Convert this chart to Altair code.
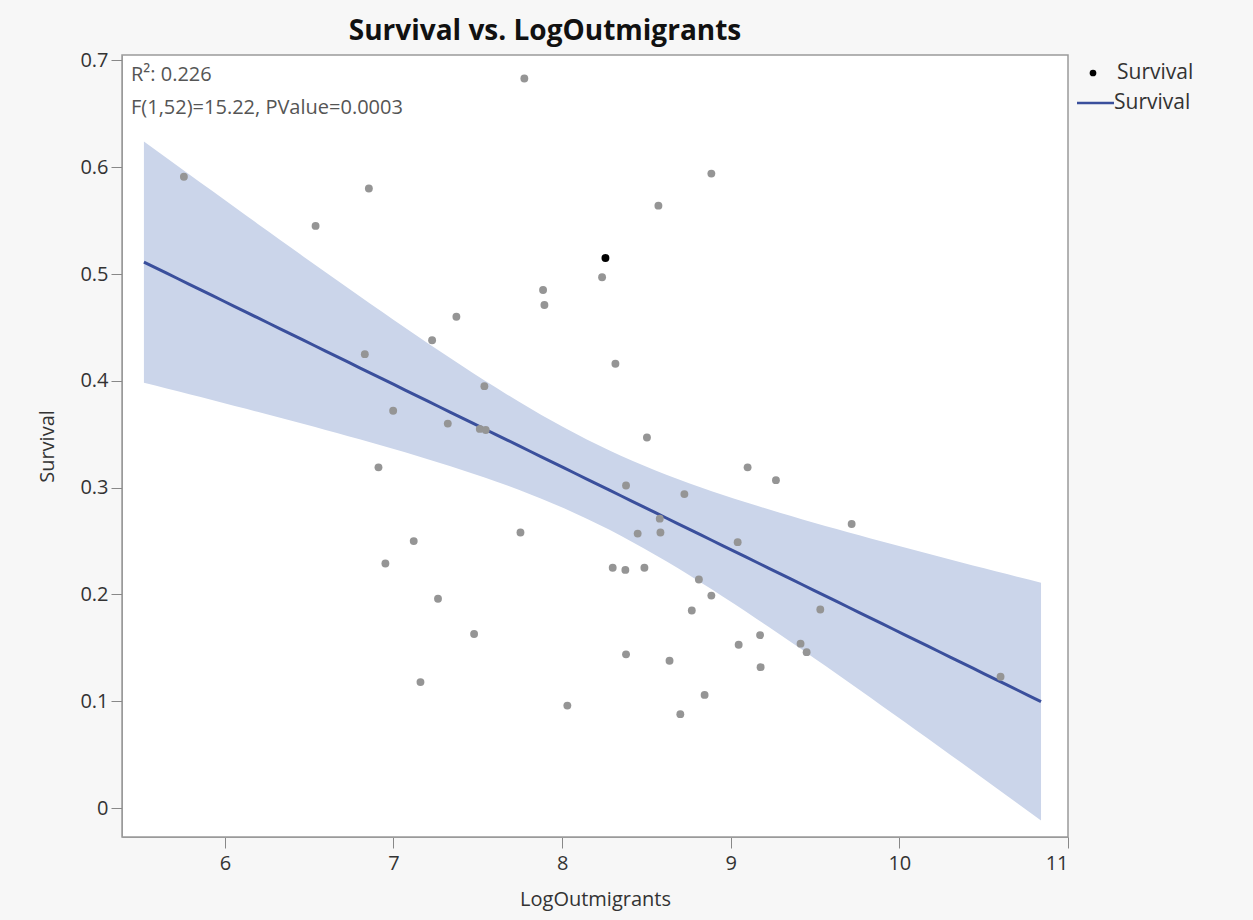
import altair as alt
import numpy as np
import pandas as pd

# ---- data ----
log_outmigrants = [5.757, 6.538, 6.854, 7.776, 7.887, 7.895, 7.373, 7.229, 8.885, 8.571,
                   8.257, 8.237, 6.830, 7.539, 6.998, 7.322, 7.512, 7.547, 6.911, 7.753,
                   7.120, 6.952, 7.264, 8.316, 8.503, 9.100, 9.268, 8.379, 8.725, 8.579,
                   9.717, 8.448, 8.583, 9.041, 8.300, 8.375, 8.488, 8.811, 8.885, 9.531,
                   9.174, 9.047, 9.414, 9.450, 9.177, 10.600, 8.845, 7.478, 7.160, 8.031,
                   8.769, 8.379, 8.637, 8.701]
survival = [0.591, 0.545, 0.580, 0.683, 0.485, 0.471, 0.460, 0.438, 0.594, 0.564,
            0.515, 0.497, 0.425, 0.395, 0.372, 0.360, 0.355, 0.354, 0.319, 0.258,
            0.250, 0.229, 0.196, 0.416, 0.347, 0.319, 0.307, 0.302, 0.294, 0.271,
            0.266, 0.257, 0.258, 0.249, 0.225, 0.223, 0.225, 0.214, 0.199, 0.186,
            0.162, 0.153, 0.154, 0.146, 0.132, 0.123, 0.106, 0.163, 0.118, 0.096,
            0.185, 0.144, 0.138, 0.088]
highlight_index = 10          # the black (selected) point
fit_range = [5.52, 10.84]     # extent of the drawn fit / band
x_ticks = [6, 7, 8, 9, 10, 11]
y_ticks = [0, 0.1, 0.2, 0.3, 0.4, 0.5, 0.6, 0.7]
x_domain = [5.39, 11.0]
y_domain = [-0.027, 0.705]
annotation = ["R\u00b2: 0.226", "F(1,52)=15.22, PValue=0.0003"]
legend_label = "Survival"

# ---- derived: OLS fit and 95% confidence band of the mean ----
xa = np.array(log_outmigrants)
ya = np.array(survival)
n = len(xa)
slope, intercept = np.polyfit(xa, ya, 1)
resid = ya - (intercept + slope * xa)
s = np.sqrt(np.sum(resid ** 2) / (n - 2))
sxx = np.sum((xa - xa.mean()) ** 2)
t_crit = 2.0066  # t(0.975, 52)
grid = np.linspace(fit_range[0], fit_range[1], 80)
yhat = intercept + slope * grid
half = t_crit * s * np.sqrt(1.0 / n + (grid - xa.mean()) ** 2 / sxx)
fit_df = pd.DataFrame({"x": grid, "fit": yhat, "lo": yhat - half, "hi": yhat + half})

pts = pd.DataFrame({"LogOutmigrants": log_outmigrants, "Survival": survival})
pts["sel"] = ["yes" if i == highlight_index else "no" for i in range(n)]

FONT = "Open Sans"
W, H = 946, 782

xscale = alt.Scale(domain=x_domain, nice=False, zero=False)
yscale = alt.Scale(domain=y_domain, nice=False, zero=False)

xaxis = alt.Axis(values=x_ticks, title="LogOutmigrants", format="~g", tickSize=11,
                 labelPadding=5, titlePadding=16)
yaxis = alt.Axis(values=y_ticks, title="Survival", format="~g", tickSize=11,
                 labelPadding=3, titlePadding=22)

band = alt.Chart(fit_df).mark_area(color="#cbd5ea", opacity=1).encode(
    x=alt.X("x:Q", scale=xscale, axis=xaxis),
    y=alt.Y("lo:Q", scale=yscale, axis=yaxis),
    y2="hi:Q",
)

line = alt.Chart(fit_df).mark_line(color="#3a4f9c", strokeWidth=3).encode(
    x=alt.X("x:Q", scale=xscale),
    y=alt.Y("fit:Q", scale=yscale),
)

points = alt.Chart(pts).mark_circle(size=62, opacity=1).encode(
    x=alt.X("LogOutmigrants:Q", scale=xscale),
    y=alt.Y("Survival:Q", scale=yscale),
    color=alt.Color("sel:N", scale=alt.Scale(domain=["no", "yes"], range=["#959595", "#000000"]),
                    legend=None),
    order=alt.Order("sel:N"),
)


def text_layer(txt, px, py, size, color):
    return alt.Chart(pd.DataFrame({"t": [txt]})).mark_text(
        align="left", baseline="middle", font=FONT, fontSize=size, color=color
    ).encode(text="t:N", x=alt.value(px), y=alt.value(py))


ann1 = text_layer(annotation[0], 9, 20, 20, "#555555")
ann2 = text_layer(annotation[1], 9, 53, 20, "#555555")

# manual legend at the right of the plot
leg1 = text_layer(legend_label, W + 49, 18, 21, "#333333")
leg2 = text_layer(legend_label, W + 46, 48, 21, "#333333")
leg_dot = alt.Chart(pd.DataFrame({"row": [0]})).mark_circle(size=45, color="black", opacity=1).encode(
    x=alt.value(W + 25),
    y=alt.value(18),
)
leg_line = alt.Chart(pd.DataFrame({"row": [0]})).mark_rule(color="#3a4f9c", strokeWidth=2.5).encode(
    x=alt.value(W + 9),
    x2=alt.value(W + 46),
    y=alt.value(48),
)

chart = alt.layer(band, line, points, ann1, ann2, leg1, leg2, leg_dot, leg_line).properties(
    width=W,
    height=H,
    title=alt.Title("Survival vs. LogOutmigrants", font=FONT, fontSize=28, fontWeight="bold",
                    color="#111111", anchor="middle", dx=-50, offset=4),
    autosize=alt.AutoSizeParams(type="none"),
    padding={"left": 122, "top": 55, "right": 185, "bottom": 83},
    background="#f7f7f7",
).configure_view(
    fill="white", stroke="#9a9a9a", strokeWidth=1.5
).configure_axis(
    labelFont=FONT, titleFont=FONT, labelFontSize=20, titleFontSize=20,
    labelColor="#333333", titleColor="#333333", titleFontWeight="normal",
    tickColor="#888888", domainColor="#9a9a9a", grid=False,
)

chart.save("out.html", embed_options={"renderer": "svg", "actions": False})
